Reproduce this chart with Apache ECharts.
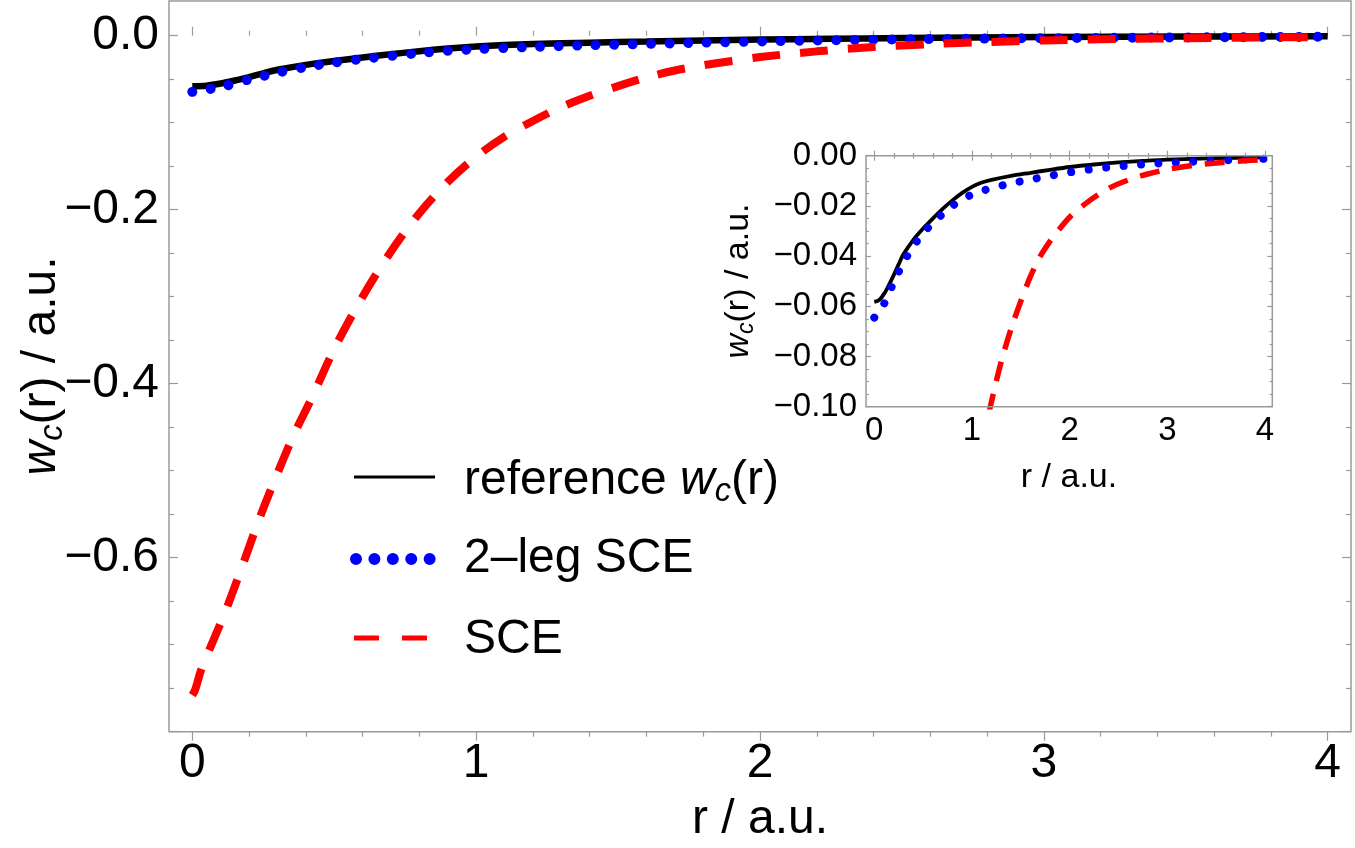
<!DOCTYPE html>
<html>
<head>
<meta charset="utf-8">
<script src="https://cdn.jsdelivr.net/npm/echarts@6/dist/echarts.min.js"></script>
<style>
  html, body { margin: 0; padding: 0; background: #fff; }
  #chart { width: 1355px; height: 848px; }
</style>
</head>
<body>
<div id="chart"></div>
<script>
// reference w_c(r) (black solid)
var refR = [0, 0.05, 0.1, 0.15, 0.2, 0.25, 0.3, 0.4, 0.5, 0.6, 0.7, 0.8, 0.9, 1.0, 1.1, 1.2, 1.4, 1.6, 1.8, 2.0, 2.25, 2.5, 2.75, 3.0, 3.5, 4.0]
var refW = [-0.0582, -0.0575, -0.0550, -0.0515, -0.0475, -0.0432, -0.0392, -0.0335, -0.0290, -0.0250, -0.0212, -0.0178, -0.0148, -0.0124, -0.0107, -0.0096, -0.0080, -0.0068, -0.0056, -0.0045, -0.0035, -0.0027, -0.0021, -0.0016, -0.0010, -0.0007]

// 2-leg SCE (blue dotted)
var legR = [0, 0.1, 0.2, 0.3, 0.4, 0.5, 0.6, 0.7, 0.8, 0.9, 1.0, 1.1, 1.2, 1.4, 1.6, 1.8, 2.0, 2.2, 2.4, 2.6, 2.8, 3.0, 3.2, 3.4, 3.6, 3.8, 4.0]
var legW = [-0.0645, -0.0590, -0.0503, -0.0425, -0.0360, -0.0310, -0.0267, -0.0232, -0.0200, -0.0173, -0.0155, -0.0141, -0.0129, -0.0110, -0.0095, -0.0080, -0.0066, -0.0055, -0.0046, -0.0039, -0.0033, -0.0029, -0.0025, -0.0021, -0.0018, -0.0015, -0.0012]

// SCE (red dashed)
var sceR = [0, 0.01, 0.03, 0.06, 0.12, 0.18, 0.24, 0.3, 0.36, 0.42, 0.5, 0.6, 0.7, 0.8, 0.9, 1.0, 1.1, 1.2, 1.3, 1.4, 1.5, 1.6, 1.7, 1.8, 1.9, 2.0, 2.2, 2.4, 2.6, 2.8, 3.0, 3.25, 3.5, 3.75, 4.0]
var sceW = [-0.758, -0.752, -0.730, -0.706, -0.659, -0.606, -0.552, -0.503, -0.457, -0.417, -0.360, -0.300, -0.248, -0.204, -0.168, -0.139, -0.116, -0.098, -0.082, -0.069, -0.058, -0.048, -0.040, -0.034, -0.029, -0.0245, -0.018, -0.013, -0.0097, -0.0073, -0.0055, -0.0039, -0.0029, -0.0021, -0.0015]

// tick labels
var xTickVals = [0, 1, 2, 3, 4]
var xTickLabels = ['0', '1', '2', '3', '4']
var mainYVals = [0, -0.2, -0.4, -0.6]
var mainYLabels = ['0.0', '\u22120.2', '\u22120.4', '\u22120.6']
var insetYVals = [0, -0.02, -0.04, -0.06, -0.08, -0.1]
var insetYLabels = ['0.00', '\u22120.02', '\u22120.04', '\u22120.06', '\u22120.08', '\u22120.10']

var FONT = '"Liberation Sans", Arial, Helvetica, sans-serif'
var GREY = '#9a9a9a'

function pairs (xs, ys) {
  return xs.map(function (x, i) { return [x, ys[i]] })
}
function lookup (vals, labels) {
  return function (v) {
    for (var i = 0; i < vals.length; i++) {
      if (Math.abs(vals[i] - v) < 1e-9) return labels[i]
    }
    return ''
  }
}

// framed axis with ticks pointing inward (Mathematica look)
function axis (grid, pos, range, interval, minorSplit, tickLen, labels, fontSize, margin) {
  return {
    type: 'value',
    gridIndex: grid,
    position: pos,
    min: range[0],
    max: range[1],
    interval: interval,
    axisLine: { show: false },
    splitLine: { show: false },
    axisTick: { show: true, inside: true, length: tickLen, lineStyle: { color: GREY, width: 1.2 } },
    minorTick: { show: true, splitNumber: minorSplit, length: tickLen * 0.55, lineStyle: { color: GREY, width: 1.2 } },
    axisLabel: labels ? {
      show: true, formatter: labels, color: '#000', fontSize: fontSize, fontFamily: FONT, margin: margin
    } : { show: false }
  }
}
function hidden (grid, range) {
  return { type: 'value', gridIndex: grid, min: range[0], max: range[1], show: false }
}

function richSet (size) {
  return {
    w: { fontStyle: 'italic', fontFamily: FONT, fontSize: size, lineHeight: size * 1.15 },
    c: { fontStyle: 'italic', fontFamily: FONT, fontSize: size * 0.68, lineHeight: size * 0.5, verticalAlign: 'bottom' },
    n: { fontFamily: FONT, fontSize: size, lineHeight: size * 1.15 }
  }
}

function label (x, y, text, size, rot, rich) {
  return {
    type: 'text',
    x: x,
    y: y,
    rotation: rot || 0,
    style: {
      text: text,
      rich: rich,
      fontSize: size,
      fontFamily: FONT,
      fill: '#000',
      align: 'center',
      verticalAlign: 'middle'
    }
  }
}

var chart = echarts.init(document.getElementById('chart'))

chart.setOption({
  animation: false,
  backgroundColor: '#fff',
  textStyle: { fontFamily: FONT },
  grid: [
    { left: 192.3, top: 35.7, width: 1135.4, height: 696 },   // main data
    { left: 169, top: 35.7, width: 1182, height: 696 },       // main left/right ticks
    { left: 192.3, top: 1, width: 1135.4, height: 730.7 },    // main top ticks
    { left: 874.3, top: 155.7, width: 390.7, height: 251 },   // inset data
    { left: 866, top: 155.7, width: 406.3, height: 251 }      // inset left/right ticks
  ],
  xAxis: [
    axis(0, 'bottom', [0, 4], 1, 5, 9, lookup(xTickVals, xTickLabels), 48, 8),
    hidden(1, [0, 1]),
    axis(2, 'top', [0, 4], 1, 5, 9, null),
    axis(3, 'bottom', [0, 4], 1, 5, 5, lookup(xTickVals, xTickLabels), 33, 8),
    axis(3, 'top', [0, 4], 1, 5, 5, null),
    hidden(4, [0, 1])
  ],
  yAxis: [
    hidden(0, [-0.8, 0]),
    axis(1, 'left', [-0.8, 0], 0.2, 4, 9, lookup(mainYVals, mainYLabels), 48, 10),
    axis(1, 'right', [-0.8, 0], 0.2, 4, 9, null),
    hidden(2, [0, 1]),
    hidden(3, [-0.1, 0]),
    axis(4, 'left', [-0.1, 0], 0.02, 4, 5, lookup(insetYVals, insetYLabels), 33, 9),
    axis(4, 'right', [-0.1, 0], 0.02, 4, 5, null)
  ],
  series: [
    {
      name: 'reference', type: 'line', xAxisIndex: 0, yAxisIndex: 0,
      data: pairs(refR, refW), symbol: 'none', smooth: 0.3,
      lineStyle: { color: '#000', width: 6.5 }
    },
    {
      name: '2-leg SCE', type: 'line', xAxisIndex: 0, yAxisIndex: 0,
      data: pairs(legR, legW), symbol: 'none', smooth: 0.3,
      lineStyle: { color: '#0000ff', width: 10, type: [0.01, 18.5], cap: 'round' }
    },
    {
      name: 'SCE', type: 'line', xAxisIndex: 0, yAxisIndex: 0,
      data: pairs(sceR, sceW), symbol: 'none', smooth: 0.3,
      lineStyle: { color: '#ff0000', width: 8, type: [28, 20], cap: 'butt' }
    },
    {
      name: 'reference inset', type: 'line', xAxisIndex: 3, yAxisIndex: 4,
      data: pairs(refR, refW), symbol: 'none', smooth: 0.3,
      lineStyle: { color: '#000', width: 3.8 }
    },
    {
      name: '2-leg SCE inset', type: 'line', xAxisIndex: 3, yAxisIndex: 4,
      data: pairs(legR, legW), symbol: 'none', smooth: 0.3,
      lineStyle: { color: '#0000ff', width: 8, type: [0.01, 17.5], cap: 'round' }
    },
    {
      name: 'SCE inset', type: 'line', xAxisIndex: 3, yAxisIndex: 4,
      data: pairs(sceR, sceW), symbol: 'none', smooth: 0.3,
      lineStyle: { color: '#ff0000', width: 5.5, type: [20, 13], cap: 'butt' }
    }
  ],
  graphic: [
    // frames
    { type: 'rect', shape: { x: 169, y: 1, width: 1182, height: 730.7 }, style: { fill: 'none', stroke: GREY, lineWidth: 1.5 }, z: 10 },
    { type: 'rect', shape: { x: 866, y: 155.7, width: 406.3, height: 251 }, style: { fill: 'none', stroke: GREY, lineWidth: 1.5 }, z: 10 },
    // axis titles
    label(760, 820, 'r / a.u.', 48),
    label(42, 366, '{w|w}{c|c}{n|(r) / a.u.}', 48, Math.PI / 2, richSet(48)),
    label(1069, 478, 'r / a.u.', 34),
    label(739, 281, '{w|w}{c|c}{n|(r) / a.u.}', 34, Math.PI / 2, richSet(34)),
    // legend
    { type: 'line', shape: { x1: 354, y1: 477, x2: 435, y2: 477 }, style: { stroke: '#000', lineWidth: 3 } },
    { type: 'line', shape: { x1: 356, y1: 559, x2: 430, y2: 559 }, style: { stroke: '#0000ff', lineWidth: 12, lineDash: [0.01, 18.4], lineCap: 'round' } },
    { type: 'line', shape: { x1: 354, y1: 638, x2: 427, y2: 638 }, style: { stroke: '#ff0000', lineWidth: 5, lineDash: [25, 23] } },
    {
      type: 'text', x: 464, y: 481,
      style: { text: '{n|reference }{w|w}{c|c}{n|(r)}', rich: richSet(48), fontSize: 48, fontFamily: FONT, fill: '#000', align: 'left', verticalAlign: 'middle' }
    },
    { type: 'text', x: 464, y: 559, style: { text: '2\u2013leg SCE', fontSize: 48, fontFamily: FONT, fill: '#000', align: 'left', verticalAlign: 'middle' } },
    { type: 'text', x: 464, y: 640, style: { text: 'SCE', fontSize: 48, fontFamily: FONT, fill: '#000', align: 'left', verticalAlign: 'middle' } }
  ]
})
</script>
</body>
</html>
